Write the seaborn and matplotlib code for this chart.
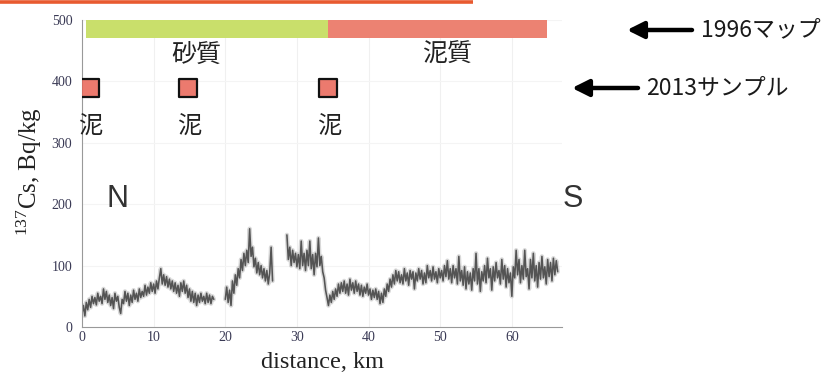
import numpy as np
import pandas as pd
import matplotlib
matplotlib.use("Agg")
import matplotlib.pyplot as plt
from matplotlib.lines import Line2D
from matplotlib.ticker import MultipleLocator
import seaborn as sns

# --- 137Cs along the N-S survey track (Bq/kg), sampled every 0.2 km ---
seg_starts = [0.0, 20.0, 28.6]
seg_step = 0.2
cs_seg1 = [22, 35, 18, 40, 28, 45, 32, 50, 38, 48, 36, 55, 42, 50, 38, 62, 45, 58, 40, 52,
           35, 48, 30, 55, 42, 50, 32, 22, 45, 38, 58, 42, 55, 35, 52, 40, 60, 45, 55, 42,
           62, 48, 58, 50, 68, 52, 65, 55, 72, 58, 70, 55, 75, 62, 80, 95, 70, 85, 68, 82,
           65, 78, 62, 75, 58, 72, 55, 68, 50, 72, 58, 75, 55, 68, 48, 62, 42, 58, 40, 55,
           35, 52, 40, 55, 42, 50, 38, 55, 40, 52, 38, 50, 45]
cs_seg2 = [45, 65, 40, 60, 35, 75, 55, 85, 68, 95, 80, 110, 92, 120, 100, 125, 105, 160,
           115, 130, 98, 112, 88, 105, 85, 100, 80, 95, 75, 92, 70, 88, 130, 75]
cs_seg3 = [150, 110, 130, 100, 125, 105, 120, 98, 118, 95, 140, 100, 120, 92, 125, 100,
           140, 95, 118, 85, 120, 98, 145, 100, 115, 90, 80, 60, 48, 35, 52, 40, 58, 45,
           62, 50, 70, 55, 72, 58, 75, 55, 70, 52, 78, 60, 72, 55, 75, 58, 70, 52, 68, 50,
           65, 55, 70, 52, 62, 45, 60, 48, 62, 45, 58, 38, 55, 40, 62, 50, 70, 58, 78, 65,
           85, 70, 92, 75, 90, 72, 85, 70, 95, 75, 88, 68, 92, 78, 90, 62, 88, 75, 95, 78,
           92, 70, 88, 72, 100, 80, 92, 75, 98, 78, 90, 72, 95, 80, 92, 75, 100, 82, 108,
           78, 95, 72, 100, 80, 95, 70, 115, 75, 92, 68, 98, 62, 90, 70, 88, 60, 95, 75,
           120, 70, 95, 58, 90, 75, 100, 72, 112, 80, 95, 60, 98, 75, 105, 80, 92, 70, 110,
           78, 100, 65, 95, 72, 88, 50, 98, 80, 125, 85, 110, 72, 100, 78, 125, 82, 95, 62,
           110, 80, 120, 75, 100, 65, 105, 78, 115, 80, 98, 70, 110, 82, 105, 75, 112, 85,
           108, 90]

# --- 1996 sediment map (km ranges) ---
map_start = [0.55, 34.3]
map_end = [34.3, 64.9]
map_names = ["砂質", "泥質"]

# --- 2013 sampling points ---
sample_km = [1.1, 14.8, 34.4]
sample_names = ["泥", "泥", "泥"]

# --- axis ticks ---
x_ticks = [0, 10, 20, 30, 40, 50, 60]
y_ticks = [0, 100, 200, 300, 400, 500]

rows = []
for k, (start, vals) in enumerate(zip(seg_starts, [cs_seg1, cs_seg2, cs_seg3])):
    dist = start + seg_step * np.arange(len(vals))
    rows.append(pd.DataFrame({"distance": dist, "cs": vals, "segment": k}))
track = pd.concat(rows, ignore_index=True)
samples = pd.DataFrame({"distance": sample_km, "level": 389.0})

sns.set_style("white")
plt.rcParams["font.family"] = ["Liberation Serif", "DejaVu Serif"]
plt.rcParams["mathtext.fontset"] = "custom"
plt.rcParams["mathtext.rm"] = "Liberation Serif"
plt.rcParams["mathtext.it"] = "Liberation Serif:italic"
CJK = ["Noto Sans CJK JP", "DejaVu Sans"]
SANS = ["Liberation Sans", "DejaVu Sans"]

W, H = 830, 373
fig = plt.figure(figsize=(W / 100, H / 100), dpi=100)
ax = fig.add_axes([82 / W, 1 - 327 / H, 480 / W, 307 / H])

# faint guide grid
for xv in x_ticks[1:]:
    ax.axvline(xv, color="#f0f0f0", lw=0.8, zorder=0)
for yv in y_ticks[1:]:
    ax.axhline(yv, color="#f4f4f4", lw=0.8, zorder=0)

# measurement trace (soft halo + core line)
sns.lineplot(data=track, x="distance", y="cs", units="segment", estimator=None,
             color="#6a6a6a", lw=3.2, alpha=0.25, ax=ax, legend=False)
sns.lineplot(data=track, x="distance", y="cs", units="segment", estimator=None,
             color="#4d4d4d", lw=1.15, alpha=0.95, ax=ax, legend=False)

# 1996 map bars
map_colors = ["#c9df6b", "#ec8272"]
ax.barh([485] * len(map_start), np.subtract(map_end, map_start), left=map_start,
        height=30, color=map_colors, edgecolor="none", zorder=3)
for name, xpos in zip(map_names, [15.9, 51.0]):
    ax.text(xpos, 443, name, ha="center", va="center", fontsize=18,
            family=CJK, color="#222222")

# 2013 sample markers
sns.scatterplot(data=samples, x="distance", y="level", marker="s", s=150,
                color="#ec7a6e", edgecolor="#111111", linewidth=1.6, ax=ax,
                zorder=4, legend=False)
for km, name in zip(sample_km, sample_names):
    ax.text(km + 0.1, 326, name, ha="center", va="center", fontsize=17.5,
            family=CJK, color="#222222")

# N / S compass letters
ax.text(4.9, 208, "N", fontsize=22, family=SANS, color="#333333",
        ha="center", va="center")
ax.text(68.5, 209, "S", fontsize=22, family=SANS, color="#333333",
        ha="center", va="center", clip_on=False)

ax.set_xlim(0, 67)
ax.set_ylim(0, 500)
ax.set_xticks(x_ticks)
ax.set_yticks(y_ticks)
ax.xaxis.set_minor_locator(MultipleLocator(2))
ax.yaxis.set_minor_locator(MultipleLocator(20))
ax.tick_params(axis="both", which="major", length=4, width=0.8, color="#999999",
               labelsize=10, labelcolor="#3a3a55", pad=3)
ax.tick_params(axis="both", which="minor", length=2, width=0.6, color="#aaaaaa")
ax.tick_params(axis="x", which="both", direction="in")
ax.tick_params(axis="y", which="both", direction="out")
for side in ["top", "right"]:
    ax.spines[side].set_visible(False)
for side in ["left", "bottom"]:
    ax.spines[side].set_color("#999999")
    ax.spines[side].set_linewidth(0.8)
ax.set_xlabel("")
ax.set_ylabel("")

fig.text(29 / W, 1 - 172 / H, r"$^{137}$Cs, Bq/kg", rotation=90, fontsize=18,
         ha="center", va="center", color="#222222")
fig.text(322 / W, 1 - 368 / H, "distance, km", fontsize=17.5, ha="center",
         va="baseline", color="#222222")

# annotation arrows on the right
arrow_kw = dict(arrowstyle="-|>,head_length=1.0,head_width=0.5", lw=3.2,
                color="black", shrinkA=0, shrinkB=0)
ax.annotate("", xy=(627 / W, 1 - 30 / H), xytext=(692 / W, 1 - 30 / H),
            xycoords="figure fraction", textcoords="figure fraction",
            arrowprops=arrow_kw, annotation_clip=False)
ax.annotate("", xy=(572 / W, 1 - 88 / H), xytext=(638 / W, 1 - 88 / H),
            xycoords="figure fraction", textcoords="figure fraction",
            arrowprops=arrow_kw, annotation_clip=False)
fig.text(701 / W, 1 - 30 / H, "1996マップ", fontsize=16.5, family=CJK,
         ha="left", va="center", color="#1a1a1a")
fig.text(646 / W, 1 - 88 / H, "2013サンプル", fontsize=16.5, family=CJK,
         ha="left", va="center", color="#1a1a1a")

# title rule along the top edge
fig.add_artist(Line2D([0, 473 / W], [1 - 1.5 / H, 1 - 1.5 / H], color="#e85a30",
                      lw=2.6, solid_capstyle="butt"))

fig.savefig("out.png", dpi=100)
